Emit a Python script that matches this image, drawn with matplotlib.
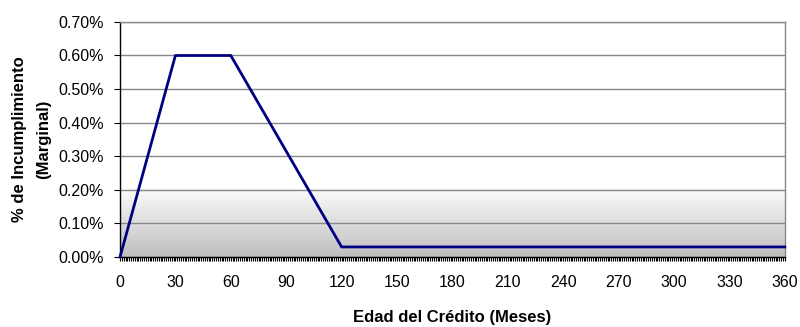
import numpy as np
import matplotlib
matplotlib.use("Agg")
import matplotlib.pyplot as plt
from matplotlib.ticker import MultipleLocator, FuncFormatter

plt.rcParams['font.family'] = ['Liberation Sans', 'DejaVu Sans']

# Curve corners: month and marginal default rate (%)
meses = [0, 30, 60, 120, 360]
tasa = [0.00, 0.60, 0.60, 0.03, 0.03]

x_ticks = [0, 30, 60, 90, 120, 150, 180, 210, 240, 270, 300, 330, 360]
y_ticks = [0.00, 0.10, 0.20, 0.30, 0.40, 0.50, 0.60, 0.70]

fig = plt.figure(figsize=(8.0, 3.27), dpi=100)
ax = fig.add_axes([0.15, 0.214, 0.831, 0.719])

ax.set_xlim(0, 360)
ax.set_ylim(0, 0.70)

# Grey shading in the lower band of the plot
grad = np.linspace(0.0, 1.0, 256).reshape(-1, 1)
c_top = np.array([0.985, 0.985, 0.985])
c_bot = np.array([0.745, 0.745, 0.745])
img = c_bot[None, None, :] * (1 - grad[:, :, None]) + c_top[None, None, :] * grad[:, :, None]
ax.imshow(img, extent=[0, 360, 0, 0.20], origin='lower', aspect='auto', zorder=0,
          interpolation='bilinear')

ax.set_yticks(y_ticks)
ax.yaxis.grid(True, color='#888888', linewidth=1.0, zorder=1)
ax.set_axisbelow(True)

ax.plot(meses, tasa, color='#000080', linewidth=2.0, solid_joinstyle='round',
        zorder=3, clip_on=False)

ax.set_xticks(x_ticks)
ax.xaxis.set_minor_locator(MultipleLocator(1))
ax.tick_params(axis='x', which='major', length=3, width=0.8, pad=10, labelsize=11.5)
ax.tick_params(axis='x', which='minor', length=3, width=0.8, color='black')
ax.tick_params(axis='y', which='major', length=4.3, width=0.8, pad=7.5, labelsize=11.5)
ax.yaxis.set_major_formatter(FuncFormatter(lambda v, p: f"{v:.2f}%"))

for side in ('top', 'right'):
    ax.spines[side].set_color('#888888')
    ax.spines[side].set_linewidth(1.0)
for side in ('left', 'bottom'):
    ax.spines[side].set_color('black')
    ax.spines[side].set_linewidth(1.0)

ax.set_xlabel('Edad del Crédito (Meses)', fontsize=12, fontweight='bold', labelpad=14)
ax.set_ylabel('% de Incumplimiento\n(Marginal)', fontsize=12, fontweight='bold',
              labelpad=5, linespacing=1.75)

fig.savefig('out.png', dpi=100)
